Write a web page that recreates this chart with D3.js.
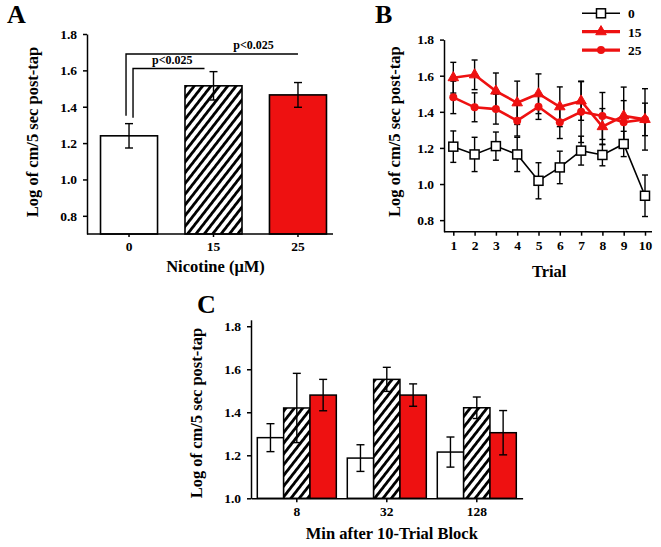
<!DOCTYPE html>
<html><head><meta charset="utf-8">
<script src="https://cdn.jsdelivr.net/npm/d3@7"></script>
<style>
body{margin:0;background:#fff}
svg text{font-family:"Liberation Serif","Times New Roman",serif;font-weight:bold;fill:#000}
</style></head><body>
<svg id="c" width="661" height="547"></svg>
<script>
// ---------- data ----------
const doseLabels = ["0", "15", "25"];
const aMeans = [1.24, 1.515, 1.465];
const aErrs = [0.067, 0.078, 0.068];
const yTicksA = [0.8, 1.0, 1.2, 1.4, 1.6, 1.8];
const sigLabels = ["p<0.025", "p<0.025"];

const trials = [1, 2, 3, 4, 5, 6, 7, 8, 9, 10];
const b0 = [1.207, 1.164, 1.21, 1.164, 1.018, 1.092, 1.185, 1.161, 1.222, 0.935];
const b0Err = [0.087, 0.095, 0.078, 0.095, 0.10, 0.09, 0.08, 0.06, 0.07, 0.115];
const b15 = [1.589, 1.605, 1.515, 1.45, 1.50, 1.428, 1.46, 1.318, 1.377, 1.358];
const b15Err = [0.085, 0.082, 0.10, 0.12, 0.11, 0.11, 0.107, 0.10, 0.16, 0.17];
const b25 = [1.48, 1.425, 1.415, 1.351, 1.428, 1.342, 1.40, 1.377, 1.342, 1.358];
const b25Err = [0.09, 0.08, 0.083, 0.085, 0.07, 0.09, 0.17, 0.13, 0.12, 0.09];
const legendLabels = ["0", "15", "25"];

const cGroups = ["8", "32", "128"];
const c0 = [1.282, 1.187, 1.215];
const c0Err = [0.065, 0.062, 0.07];
const c15 = [1.42, 1.553, 1.421];
const c15Err = [0.161, 0.056, 0.05];
const c25 = [1.48, 1.48, 1.305];
const c25Err = [0.073, 0.052, 0.103];
const yTicksC = [1.0, 1.2, 1.4, 1.6, 1.8];

// ---------- style ----------
const RED = "#ee1111";
const TICK_FS = 13.5, TITLE_FS = 16.5;
const fmt = d3.format(".1f");
const svg = d3.select("#c");

const defs = svg.append("defs");
const pat = defs.append("pattern").attr("id", "hatch")
  .attr("patternUnits", "userSpaceOnUse").attr("width", 6.6).attr("height", 10)
  .attr("patternTransform", "rotate(38)");
pat.append("rect").attr("width", 6.6).attr("height", 10).attr("fill", "#fff");
pat.append("line").attr("x1", 1.4).attr("x2", 1.4).attr("y1", 0).attr("y2", 10)
  .attr("stroke", "#000").attr("stroke-width", 2.8);
const fills = ["#fff", "url(#hatch)", RED];

function styleAxis(g, fs) {
  g.selectAll("path,line").attr("stroke", "#000").attr("stroke-width", 1.5);
  g.selectAll("text").attr("font-size", fs).attr("fill", "#000")
    .attr("font-family", '"Liberation Serif","Times New Roman",serif').attr("font-weight", "bold");
}
function errBar(g, x, yTop, yBot, cap) {
  g.append("line").attr("x1", x).attr("x2", x).attr("y1", yTop).attr("y2", yBot)
    .attr("stroke", "#000").attr("stroke-width", 1.4);
  [yTop, yBot].forEach(y => g.append("line").attr("x1", x - cap).attr("x2", x + cap)
    .attr("y1", y).attr("y2", y).attr("stroke", "#000").attr("stroke-width", 1.4));
}

// ================= Panel A =================
{
  const L = 87, R = 333, T = 34, B = 234;
  const x = d3.scaleBand().domain(doseLabels).range([L, 340]).paddingInner(0.325).paddingOuter(0.16);
  const y = d3.scaleLinear().domain([0.7, 1.8]).range([B, T]);
  const g = svg.append("g");
  g.selectAll("rect.bar").data(doseLabels).join("rect").attr("class", "bar")
    .attr("x", d => x(d)).attr("width", x.bandwidth())
    .attr("y", (d, i) => y(aMeans[i])).attr("height", (d, i) => y(0.7) - y(aMeans[i]))
    .attr("fill", (d, i) => fills[i]).attr("stroke", "#000").attr("stroke-width", 1.6);
  doseLabels.forEach((d, i) => errBar(g, x(d) + x.bandwidth() / 2, y(aMeans[i] + aErrs[i]), y(aMeans[i] - aErrs[i]), 4));

  const ya = g.append("g").attr("transform", `translate(${L},0)`)
    .call(d3.axisLeft(y).tickValues(yTicksA).tickFormat(fmt).tickSize(4).tickSizeOuter(0).tickPadding(6));
  styleAxis(ya, TICK_FS);
  const xa = g.append("g").attr("transform", `translate(0,${B})`)
    .call(d3.axisBottom(x).tickSize(3).tickPadding(4));
  xa.select(".domain").remove();
  styleAxis(xa, TICK_FS);
  g.append("line").attr("x1", L).attr("x2", R).attr("y1", B).attr("y2", B).attr("stroke", "#000").attr("stroke-width", 1.5);

  // significance brackets
  const cx0 = x("0") + x.bandwidth() / 2;
  const cx1 = x("15") + x.bandwidth() / 2;
  const cx2 = x("25") + x.bandwidth() / 2;
  const br = g.append("g").attr("fill", "none").attr("stroke", "#000").attr("stroke-width", 1.4);
  br.append("path").attr("d", `M${cx0 - 3},${y(aMeans[0] + aErrs[0]) - 8}V${y(1.69)}H${cx2}`);
  br.append("path").attr("d", `M${cx0 + 4},${y(aMeans[0] + aErrs[0]) - 6}V${y(1.61)}H${cx1 - 9}`);
  g.append("text").attr("x", (cx0 + cx2) / 2 + 40).attr("y", y(1.69) - 5).attr("text-anchor", "middle").attr("font-size", 12).text(sigLabels[0]);
  g.append("text").attr("x", (cx0 + cx1) / 2 + 1).attr("y", y(1.61) - 5).attr("text-anchor", "middle").attr("font-size", 12).text(sigLabels[1]);

  g.append("text").attr("transform", `translate(32,${(T + B) / 2 - 2}) rotate(-90)`).attr("dy", "0.35em")
    .attr("text-anchor", "middle").attr("font-size", TITLE_FS).text("Log of cm/5 sec post-tap");
  g.append("text").attr("x", x("15") + x.bandwidth() / 2 + 2).attr("y", 272).attr("text-anchor", "middle")
    .attr("font-size", TITLE_FS).text("Nicotine (\u03bcM)");
  g.append("text").attr("x", 7).attr("y", 23).attr("font-size", 26).text("A");
}

// ================= Panel B =================
{
  const L = 444, R = 652, T = 39.6, B = 231.7;
  const x = d3.scaleLinear().domain([1, 10]).range([453.3, 645]);
  const y = d3.scaleLinear().domain([0.736, 1.8]).range([B, T]);
  const g = svg.append("g");
  const series = [
    { vals: b0, errs: b0Err, color: "#000", w: 1.6, sym: "square" },
    { vals: b15, errs: b15Err, color: RED, w: 2.6, sym: "triangle" },
    { vals: b25, errs: b25Err, color: RED, w: 2.6, sym: "circle" }
  ];
  series.forEach(s => trials.forEach((t, i) =>
    errBar(g, x(t), y(s.vals[i] + s.errs[i]), y(s.vals[i] - s.errs[i]), 3)));
  const line = d3.line().x((d, i) => x(trials[i])).y(d => y(d));
  function drawMarker(sel, sym, color) {
    if (sym === "square") sel.append("rect").attr("x", -4.5).attr("y", -4.5).attr("width", 9).attr("height", 9)
      .attr("fill", "#fff").attr("stroke", "#000").attr("stroke-width", 1.5);
    else if (sym === "triangle") sel.append("path").attr("d", d3.symbol(d3.symbolTriangle, 48)())
      .attr("fill", color).attr("stroke", color).attr("stroke-width", 1);
    else sel.append("circle").attr("r", 4).attr("fill", color);
  }
  [series[2], series[1], series[0]].forEach(s => {
    g.append("path").datum(s.vals).attr("d", line).attr("fill", "none").attr("stroke", s.color).attr("stroke-width", s.w);
    s.vals.forEach((v, i) => {
      const m = g.append("g").attr("transform", `translate(${x(trials[i])},${y(v)})`);
      drawMarker(m, s.sym, s.color);
    });
  });

  const ya = g.append("g").attr("transform", `translate(${L},0)`)
    .call(d3.axisLeft(y).tickValues(yTicksA).tickFormat(fmt).tickSize(4).tickSizeOuter(0).tickPadding(6));
  styleAxis(ya, TICK_FS);
  const xa = g.append("g").attr("transform", `translate(0,${B})`)
    .call(d3.axisBottom(x).tickValues(trials).tickFormat(d3.format("d")).tickSize(4).tickPadding(5));
  xa.select(".domain").remove();
  styleAxis(xa, TICK_FS);
  g.append("line").attr("x1", L).attr("x2", R).attr("y1", B).attr("y2", B).attr("stroke", "#000").attr("stroke-width", 1.5);

  g.append("text").attr("transform", `translate(394,${(T + B) / 2 - 4}) rotate(-90)`).attr("dy", "0.35em")
    .attr("text-anchor", "middle").attr("font-size", TITLE_FS).text("Log of cm/5 sec post-tap");
  g.append("text").attr("x", (x(1) + x(10)) / 2).attr("y", 277).attr("text-anchor", "middle")
    .attr("font-size", TITLE_FS).text("Trial");
  g.append("text").attr("x", 375).attr("y", 23).attr("font-size", 26).text("B");

  // legend
  const lg = g.append("g");
  legendLabels.forEach((lab, i) => {
    const s = series[i];
    const yy = 13.3 + i * 18.4;
    lg.append("line").attr("x1", 582).attr("x2", 620).attr("y1", yy).attr("y2", yy)
      .attr("stroke", s.color).attr("stroke-width", s.w === 1.6 ? 1.6 : 3.2);
    const m = lg.append("g").attr("transform", `translate(601,${yy})`);
    drawMarker(m, s.sym, s.color);
    lg.append("text").attr("x", 628).attr("y", yy + 5).attr("font-size", TICK_FS).text(lab);
  });
}

// ================= Panel C =================
{
  const L = 251, R = 522.6, T = 319.8, B = 498.3;
  const x0 = d3.scaleBand().domain(cGroups).range([L, R]).paddingInner(0.122).paddingOuter(0.07);
  const x1 = d3.scaleBand().domain(doseLabels).range([0, x0.bandwidth()]);
  const y = d3.scaleLinear().domain([1.0, 1.83]).range([B, T]);
  const g = svg.append("g");
  const vals = [c0, c15, c25], errs = [c0Err, c15Err, c25Err];
  cGroups.forEach((grp, gi) => {
    doseLabels.forEach((d, si) => {
      g.append("rect").attr("x", x0(grp) + x1(d)).attr("width", x1.bandwidth())
        .attr("y", y(vals[si][gi])).attr("height", B - y(vals[si][gi]))
        .attr("fill", fills[si]).attr("stroke", "#000").attr("stroke-width", 1.5);
    });
  });
  cGroups.forEach((grp, gi) => doseLabels.forEach((d, si) => {
    const cx = x0(grp) + x1(d) + x1.bandwidth() / 2;
    errBar(g, cx, y(vals[si][gi] + errs[si][gi]), y(vals[si][gi] - errs[si][gi]), 4);
  }));

  const ya = g.append("g").attr("transform", `translate(${L},0)`)
    .call(d3.axisLeft(y).tickValues(yTicksC).tickFormat(fmt).tickSize(4).tickSizeOuter(0).tickPadding(6));
  styleAxis(ya, TICK_FS);
  const xa = g.append("g").attr("transform", `translate(0,${B})`)
    .call(d3.axisBottom(x0).tickSize(4).tickPadding(4).tickSizeOuter(0));
  styleAxis(xa, TICK_FS);

  g.append("text").attr("transform", `translate(196,${(T + B) / 2 + 4}) rotate(-90)`).attr("dy", "0.35em")
    .attr("text-anchor", "middle").attr("font-size", TITLE_FS).text("Log of cm/5 sec post-tap");
  g.append("text").attr("x", x0("32") + x0.bandwidth() / 2 + 5).attr("y", 539).attr("text-anchor", "middle")
    .attr("font-size", TITLE_FS).text("Min after 10-Trial Block");
  g.append("text").attr("x", 197).attr("y", 313).attr("font-size", 26).text("C");
}
</script>
</body></html>
